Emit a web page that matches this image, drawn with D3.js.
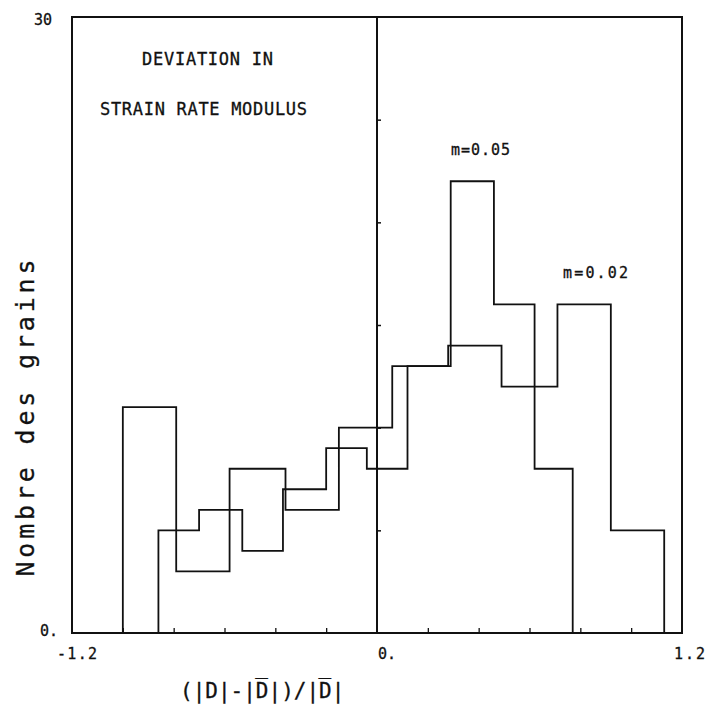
<!DOCTYPE html>
<html>
<head>
<meta charset="utf-8">
<script src="https://cdn.jsdelivr.net/npm/d3@7"></script>
<style>
  html, body { margin: 0; padding: 0; background: #fff; }
  svg { display: block; }
  text { font-family: "DejaVu Sans Mono", "Liberation Mono", monospace; fill: #111; stroke: #111; stroke-width: 0.3; }
</style>
</head>
<body>
<svg id="chart" width="708" height="718"></svg>
<script>
// ---- data ----
const edges002  = [-1.00, -0.79, -0.58, -0.36, -0.15, 0.06, 0.28, 0.49, 0.71, 0.92, 1.13];
const counts002 = [11, 3, 8, 6, 10, 13, 14, 12, 16, 5];
const edges005  = [-0.86, -0.70, -0.53, -0.37, -0.20, -0.04, 0.12, 0.29, 0.46, 0.62, 0.77];
const counts005 = [5, 6, 4, 7, 9, 8, 13, 22, 16, 8];
const xTicks = [-1.0, -0.8, -0.6, -0.4, -0.2, 0.2, 0.4, 0.6, 0.8, 1.0];
const yTicks = [5, 10, 15, 20, 25];
const xTickLabels = [{v: -1.2, t: "-1.2"}, {v: 0, t: "0."}, {v: 1.2, t: "1.2"}];
const yTickLabels = [{v: 30, t: "30"}, {v: 0, t: "0."}];
const titleLines = ["DEVIATION IN", "STRAIN RATE MODULUS"];
const seriesLabels = [{t: "m=0.05", x: 0.29, v: 22}, {t: "m=0.02", x: 0.73, v: 16}];

const svg = d3.select("#chart");
const x = d3.scaleLinear().domain([-1.2, 1.2]).range([72, 682]);
const y = d3.scaleLinear().domain([0, 30]).range([633, 17]);

const ink = "#111";

// frame
svg.append("rect")
  .attr("x", x(-1.2)).attr("y", y(30))
  .attr("width", x(1.2) - x(-1.2)).attr("height", y(0) - y(30))
  .attr("fill", "none").attr("stroke", ink).attr("stroke-width", 2);

// central vertical axis (x = 0)
svg.append("line")
  .attr("x1", x(0)).attr("x2", x(0)).attr("y1", y(0)).attr("y2", y(30))
  .attr("stroke", ink).attr("stroke-width", 2);

// x ticks (pointing up from baseline)
const xAxis = d3.axisTop(x).tickValues(xTicks).tickSize(5).tickFormat("");
const gx = svg.append("g").attr("transform", `translate(0,${y(0)})`).call(xAxis);
gx.select(".domain").remove();
gx.selectAll(".tick line").attr("stroke", ink).attr("stroke-width", 1.3);

// y ticks on the central axis (pointing right)
const yAxis = d3.axisRight(y).tickValues(yTicks).tickSize(4).tickFormat("");
const gy = svg.append("g").attr("transform", `translate(${x(0)},0)`).call(yAxis);
gy.select(".domain").remove();
gy.selectAll(".tick line").attr("stroke", ink).attr("stroke-width", 1.5);

// histogram outlines
function stepPoints(edges, counts) {
  const pts = [[edges[0], 0]];
  counts.forEach((c, i) => pts.push([edges[i], c]));
  pts.push([edges[edges.length - 1], counts[counts.length - 1]]);
  pts.push([edges[edges.length - 1], 0]);
  return pts;
}
const line = d3.line().x(d => x(d[0])).y(d => y(d[1])).curve(d3.curveStepAfter);
[[edges002, counts002], [edges005, counts005]].forEach(([e, c]) => {
  svg.append("path")
    .attr("d", line(stepPoints(e, c)))
    .attr("fill", "none").attr("stroke", ink).attr("stroke-width", 1.8)
    .attr("stroke-linejoin", "miter");
});

// tick labels
svg.selectAll(".xl").data(xTickLabels).enter().append("text")
  .attr("class", "xl")
  .attr("x", d => d.v === -1.2 ? x(d.v) - 15 : (d.v === 0 ? x(d.v) + 1 : x(d.v) - 8))
  .attr("y", y(0) + 26)
  .attr("font-size", 15)
  .attr("textLength", d => d.t === "-1.2" ? 40 : (d.t === "1.2" ? 31 : null))
  .attr("lengthAdjust", "spacing")
  .text(d => d.t);

svg.selectAll(".yl").data(yTickLabels).enter().append("text")
  .attr("class", "yl")
  .attr("x", d => d.v === 30 ? 34 : 40)
  .attr("y", d => d.v === 30 ? y(d.v) + 8 : y(d.v) + 3)
  .attr("font-size", 15)
  .text(d => d.t);

// title
svg.append("text").attr("x", 142).attr("y", 65).attr("font-size", 17)
  .attr("textLength", 131).attr("lengthAdjust", "spacing").text(titleLines[0]);
svg.append("text").attr("x", 100).attr("y", 115).attr("font-size", 17)
  .attr("textLength", 207).attr("lengthAdjust", "spacing").text(titleLines[1]);

// series labels
svg.selectAll(".sl").data(seriesLabels).enter().append("text")
  .attr("class", "sl")
  .attr("x", (d, i) => i === 0 ? 451 : 563)
  .attr("y", d => y(d.v) - 26)
  .attr("font-size", 15)
  .attr("textLength", (d, i) => i === 0 ? 59 : 65)
  .attr("lengthAdjust", "spacing")
  .text(d => d.t);

// axis titles
svg.append("text")
  .attr("transform", "translate(34,418) rotate(-90)")
  .attr("text-anchor", "middle")
  .attr("font-size", 25)
  .attr("textLength", 317).attr("lengthAdjust", "spacing")
  .text("Nombre des grains");

svg.append("text")
  .attr("x", 180).attr("y", 698)
  .attr("font-size", 21)
  .text("(|D|-|D\u0305|)/|D\u0305|");
</script>
</body>
</html>
